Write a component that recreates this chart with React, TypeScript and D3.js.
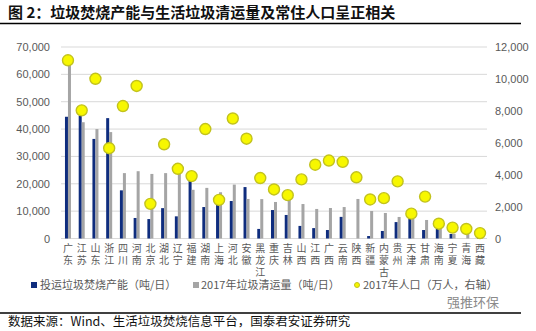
import React from "react";
import * as d3 from "d3";

const provinces = ["广东","江苏","山东","浙江","四川","河南","北京","湖北","辽宁","福建","湖南","上海","河北","安徽","黑龙江","重庆","吉林","山西","江西","广西","云南","陕西","新疆","内蒙古","贵州","天津","甘肃","海南","宁夏","青海","西藏"];
const capacity = [44500,45000,36400,44000,17600,7500,7100,11100,8100,21150,11500,12600,13700,18800,3500,10400,8600,4600,3800,3100,7900,0,900,2750,6000,7800,3100,3700,1650,0,500];
const clearance = [65000,42500,40000,38900,23900,24600,23600,23900,24400,17800,18500,16900,19700,14450,14400,13350,14700,12600,10800,11150,11500,14450,10050,9330,7870,7130,6770,5000,1700,2000,900];
const population = [11169,8029,10006,5657,8302,9559,2171,5902,4369,3911,6860,2418,7520,6255,3789,3075,2717,3702,4622,4885,4801,3835,2445,2529,3580,1557,2626,926,682,598,337];
const leftTicks = [0,10000,20000,30000,40000,50000,60000,70000];
const rightTicks = [0,2000,4000,6000,8000,10000,12000];
const legendLabels = ["投运垃圾焚烧产能（吨/日）","2017年垃圾清运量（吨/日）","2017年人口（万人，右轴）"];

const W = 536, H = 331;
const NAVY = "#0f2d7e", GREY = "#a5a5a5";
const font = "'Noto Sans CJK SC','Noto Sans',sans-serif";
const numFont = "'Liberation Sans','Noto Sans',sans-serif";

export default function App() {
  const x = d3.scaleBand<string>().domain(provinces).range([61.1, 486.9]);
  const yL = d3.scaleLinear().domain([0, 70000]).range([238.5, 47]);
  const yR = d3.scaleLinear().domain([0, 12000]).range([238.5, 47]);
  const fmt = d3.format(",");
  const bw = 3;
  return (
    <svg width={W} height={H} style={{ position: "absolute", left: 0, top: 0, background: "#fff" }} fontFamily={font}>
      <rect width={W} height={H} fill="#fff" />
      <text x={8} y={18} fontSize={15} fontWeight="bold" fill="#111">图 2：垃圾焚烧产能与生活垃圾清运量及常住人口呈正相关</text>
      <line x1={0} x2={521} y1={23.5} y2={23.5} stroke="#000" strokeWidth={1.3} />
      {leftTicks.map(t => (
        <g key={"g" + t}>
          {t > 0 && <line x1={61} x2={487} y1={yL(t)} y2={yL(t)} stroke="#d9d9d9" strokeWidth={1} />}
          <text x={50} y={yL(t) + 4} fontSize={11} textAnchor="end" fill="#595959" fontFamily={numFont}>{fmt(t)}</text>
        </g>
      ))}
      {rightTicks.map(t => (
        <text key={"r" + t} x={495} y={yR(t) + 4} fontSize={11} textAnchor="start" fill="#595959" fontFamily={numFont}>{fmt(t)}</text>
      ))}
      <line x1={61} x2={487} y1={yL(0)} y2={yL(0)} stroke="#d9d9d9" />
      {provinces.map((p, i) => {
        const c = x(p)! + x.bandwidth() / 2;
        return (
          <g key={p}>
            <rect x={c - bw} y={yL(capacity[i])} width={bw} height={yL(0) - yL(capacity[i])} fill={NAVY} />
            <rect x={c} y={yL(clearance[i])} width={bw} height={yL(0) - yL(clearance[i])} fill={GREY} />
          </g>
        );
      })}
      {provinces.map((p, i) => {
        const c = x(p)! + x.bandwidth() / 2;
        return <circle key={"c" + p} cx={c} cy={yR(population[i])} r={5.5} fill="#f7f700" stroke="#c2c21e" strokeWidth={1.4} />;
      })}
      {provinces.map(p => {
        const c = x(p)! + x.bandwidth() / 2;
        return (
          <text key={"l" + p} x={c} y={243} fontSize={10} fill="#595959"
            style={{ writingMode: "vertical-rl", textOrientation: "upright", letterSpacing: "2px" }}>{p}</text>
        );
      })}
      <rect x={31} y={282} width={6} height={6} fill={NAVY} />
      <text x={40} y={289} fontSize={11} fill="#595959">{legendLabels[0]}</text>
      <rect x={193} y={282} width={6} height={6} fill={GREY} />
      <text x={201} y={289} fontSize={11} fill="#595959">{legendLabels[1]}</text>
      <circle cx={357} cy={285} r={2.5} fill="#f7f700" stroke="#c2c21e" strokeWidth={1} />
      <text x={363} y={289} fontSize={11} fill="#595959">{legendLabels[2]}</text>
      <text x={447} y={307} fontSize={13} fill="#8a8a8a">强推环保</text>
      <line x1={0} x2={521} y1={313} y2={313} stroke="#000" strokeWidth={1.3} />
      <text x={8} y={326} fontSize={12.5} fill="#111">数据来源：Wind、生活垃圾焚烧信息平台，国泰君安证券研究</text>
    </svg>
  );
}
